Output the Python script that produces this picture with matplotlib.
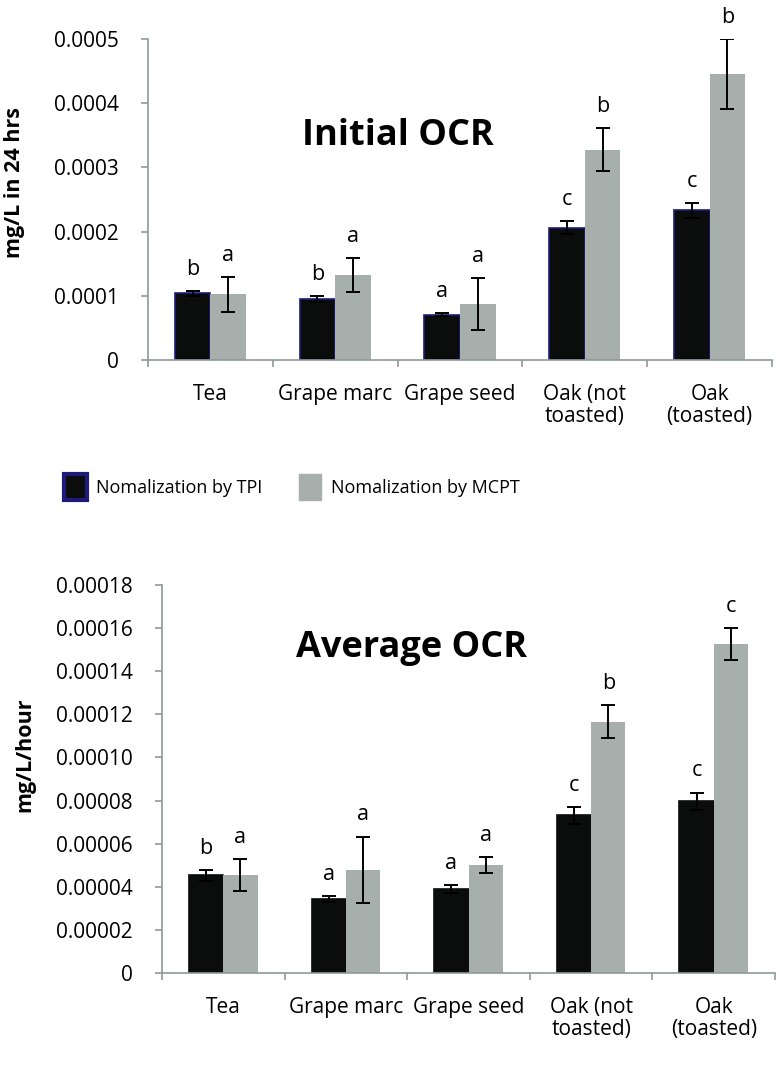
import matplotlib.pyplot as plt
import numpy as np
from matplotlib.patches import Patch

plt.rcParams['font.family'] = ['Open Sans', 'DejaVu Sans']

# data
categories = ['Tea', 'Grape marc', 'Grape seed', 'Oak (not\ntoasted)', 'Oak\n(toasted)']

init_tpi = [0.0001039, 0.0000950, 0.0000706, 0.0002060, 0.0002332]
init_tpi_err = [0.0000036, 0.0000042, 0.0000021, 0.0000105, 0.0000113]
init_mcpt = [0.0001023, 0.0001324, 0.0000877, 0.0003276, 0.0004450]
init_mcpt_err = [0.0000274, 0.0000270, 0.0000405, 0.0000333, 0.0000545]
init_tpi_letters = ['b', 'b', 'a', 'c', 'c']
init_mcpt_letters = ['a', 'a', 'a', 'b', 'b']
init_yticks = [0, 0.0001, 0.0002, 0.0003, 0.0004, 0.0005]
init_ylabels = ['0', '0.0001', '0.0002', '0.0003', '0.0004', '0.0005']

avg_tpi = [0.0000454, 0.0000343, 0.0000391, 0.0000732, 0.0000797]
avg_tpi_err = [0.0000025, 0.0000015, 0.0000018, 0.0000039, 0.0000040]
avg_mcpt = [0.0000454, 0.0000480, 0.0000499, 0.0001166, 0.0001526]
avg_mcpt_err = [0.0000074, 0.0000153, 0.0000037, 0.0000076, 0.0000076]
avg_tpi_letters = ['b', 'a', 'a', 'c', 'c']
avg_mcpt_letters = ['a', 'a', 'a', 'b', 'c']
avg_yticks = [0, 0.00002, 0.00004, 0.00006, 0.00008, 0.00010, 0.00012, 0.00014, 0.00016, 0.00018]
avg_ylabels = ['0', '0.00002', '0.00004', '0.00006', '0.00008', '0.00010',
               '0.00012', '0.00014', '0.00016', '0.00018']

BLACK = '#0b0d0c'
GRAY = '#a7afad'
NAVY = '#1c1c78'
AXIS = '#8f9999'

W, H = 776, 1077
fig = plt.figure(figsize=(W / 100, H / 100), dpi=100)


def make_axes(left, right, top, bottom):
    return fig.add_axes([left / W, 1 - bottom / H, (right - left) / W, (bottom - top) / H])


def draw(ax, tpi, tpi_err, mcpt, mcpt_err, l1, l2, yticks, ylabels, edge, width):
    x = np.arange(len(categories))
    ax.bar(x - width / 2, tpi, width, color=BLACK, edgecolor=edge, linewidth=1.2, zorder=2)
    ax.bar(x + width / 2, mcpt, width, color=GRAY, linewidth=0, zorder=2)
    ax.errorbar(x - width / 2, tpi, yerr=tpi_err, fmt='none', ecolor='black',
                elinewidth=1.4, capsize=5, capthick=1.4, zorder=3)
    ax.errorbar(x + width / 2, mcpt, yerr=mcpt_err, fmt='none', ecolor='black',
                elinewidth=1.4, capsize=5, capthick=1.4, zorder=3)
    for i in range(len(x)):
        ax.annotate(l1[i], (x[i] - width / 2, tpi[i] + tpi_err[i]), xytext=(0, 8),
                    textcoords='offset points', ha='center', va='bottom', fontsize=15.5)
        ax.annotate(l2[i], (x[i] + width / 2, mcpt[i] + mcpt_err[i]), xytext=(0, 8),
                    textcoords='offset points', ha='center', va='bottom', fontsize=15.5)

    ax.set_xlim(-0.5, len(x) - 0.5)
    ax.set_ylim(0, yticks[-1])
    ax.set_yticks(yticks)
    ax.set_yticklabels(ylabels)
    ax.set_xticks(x)
    ax.set_xticklabels(categories, linespacing=1.1)
    ax.set_xticks(np.arange(len(x) + 1) - 0.5, minor=True)
    ax.tick_params(axis='x', which='major', length=0, pad=17, labelsize=15)
    ax.tick_params(axis='x', which='minor', length=5, width=1.2, color=AXIS)
    ax.tick_params(axis='y', length=5, width=1.2, color=AXIS, pad=16, labelsize=15)
    for s in ['top', 'right']:
        ax.spines[s].set_visible(False)
    for s in ['left', 'bottom']:
        ax.spines[s].set_color(AXIS)
        ax.spines[s].set_linewidth(1.2)


ax1 = make_axes(148, 772, 39, 360)
draw(ax1, init_tpi, init_tpi_err, init_mcpt, init_mcpt_err,
     init_tpi_letters, init_mcpt_letters, init_yticks, init_ylabels, NAVY, 0.285)
fig.text(398 / W, 1 - 145 / H, 'Initial OCR', ha='center', va='baseline',
         fontsize=26, fontweight='bold')
fig.text(15 / W, 1 - 183 / H, 'mg/L in 24 hrs', rotation=90, ha='center', va='center',
         fontsize=15.5, fontweight='bold')

ax2 = make_axes(162, 775, 585, 973)
draw(ax2, avg_tpi, avg_tpi_err, avg_mcpt, avg_mcpt_err,
     avg_tpi_letters, avg_mcpt_letters, avg_yticks, avg_ylabels, BLACK, 0.28)
fig.text(411 / W, 1 - 657 / H, 'Average OCR', ha='center', va='baseline',
         fontsize=26, fontweight='bold')
fig.text(25 / W, 1 - 755 / H, 'mg/L/hour', rotation=90, ha='center', va='center',
         fontsize=15.5, fontweight='bold')

handles = [Patch(facecolor=BLACK, edgecolor=NAVY, linewidth=3),
           Patch(facecolor=GRAY, edgecolor=GRAY)]
fig.legend(handles, ['Nomalization by TPI', 'Nomalization by MCPT'],
           loc='center left', bbox_to_anchor=(64 / W, 1 - 487 / H), ncol=2,
           frameon=False, borderpad=0, borderaxespad=0,
           prop={'size': 13},
           handlelength=1.25, handleheight=1.8, handletextpad=0.55, columnspacing=2.0)

fig.savefig('out.png', dpi=100)
